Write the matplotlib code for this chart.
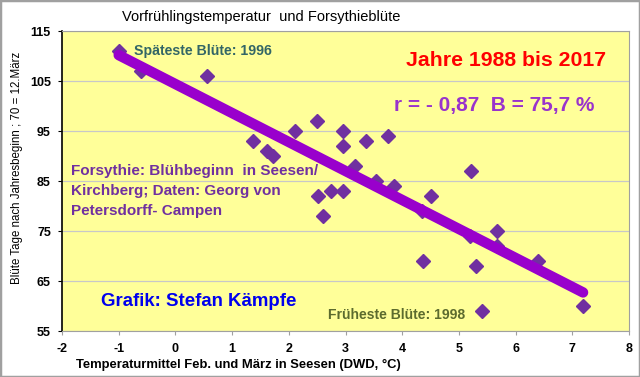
import numpy as np
import matplotlib
matplotlib.use("Agg")
import matplotlib.pyplot as plt
from matplotlib.patches import Rectangle

plt.rcParams['font.family'] = ['Liberation Sans', 'DejaVu Sans']
plt.rcParams['axes.unicode_minus'] = False

temp = [-1.0, -0.61, 0.55, 1.36, 1.61, 1.73, 2.11, 2.50, 2.95, 2.95,
        3.36, 3.75, 3.16, 3.53, 3.86, 2.52, 2.74, 2.95, 2.61, 4.51,
        4.35, 5.21, 5.20, 5.67, 5.67, 6.40, 4.36, 5.30, 5.40, 7.19]
bloom = [111, 107, 106, 93, 91, 90, 95, 97, 95, 92,
         93, 94, 88, 85, 84, 82, 83, 83, 78, 82,
         79, 87, 74, 75, 72, 69, 69, 68, 59, 60]
xticks = [-2, -1, 0, 1, 2, 3, 4, 5, 6, 7, 8]
yticks = [55, 65, 75, 85, 95, 105, 115]

fig = plt.figure(figsize=(6.4, 3.77), dpi=100)
fig.patch.set_facecolor('white')
fig.patches.append(Rectangle((0, 0), 1, 1, transform=fig.transFigure,
                             fill=False, edgecolor='#A0A0A0', linewidth=2.5))
ax = fig.add_axes([62/640, 1-331/377, (629-62)/640, (331-31)/377])
ax.set_facecolor('#FFFF99')
ax.set_xlim(-2, 8)
ax.set_ylim(55, 115)
ax.set_xticks(xticks)
ax.set_yticks(yticks)
ax.grid(axis='y', color='#C8C8C8', linewidth=0.9)
ax.set_axisbelow(True)
for s in ['top', 'right', 'bottom']:
    ax.spines[s].set_color('#A0A0A0')
ax.spines['left'].set_color('black')
ax.spines['left'].set_linewidth(1.2)
ax.tick_params(axis='both', labelsize=9, length=3, width=0.8, direction='out')
ax.tick_params(axis='y', pad=5)
ax.tick_params(axis='x', pad=6, colors='#A0A0A0', labelcolor='black')
for lab in ax.get_xticklabels() + ax.get_yticklabels():
    lab.set_fontweight('bold')

ax.plot(temp, bloom, linestyle='none', marker='D', markersize=7.5,
        color='#7030A0', markeredgecolor='#7030A0', zorder=3)

t = np.array(temp)
b = np.array(bloom)
k, d = np.polyfit(t, b, 1)
xs = np.array([t.min(), t.max()])
ax.plot(xs, k*xs + d, color='#9900CC', linewidth=7.5, solid_capstyle='round', zorder=4)

fig.text(261/640, 1-17/377, 'Vorfrühlingstemperatur  und Forsythieblüte',
         ha='center', va='center', fontsize=10.5)
fig.text(238/640, 1-365/377, 'Temperaturmittel Feb. und März in Seesen (DWD, °C)',
         ha='center', va='center', fontsize=9.4, fontweight='bold')
fig.text(17/640, 1-168/377, 'Blüte Tage nach Jahresbeginn ; 70 = 12.März',
         ha='center', va='center', fontsize=8.3, rotation=90)

ax.text(-0.73, 111, 'Späteste Blüte: 1996', color='#336666', fontsize=10.2,
        fontweight='bold', va='center')
ax.text(5.83, 109.1, 'Jahre 1988 bis 2017', color='#FF0000', fontsize=15.3,
        fontweight='bold', ha='center', va='center')
ax.text(5.63, 100.0, 'r = - 0,87  B = 75,7 %', color='#9933CC', fontsize=15,
        fontweight='bold', ha='center', va='center')
ax.text(-1.84, 88.3, 'Forsythie: Blühbeginn  in Seesen/\nKirchberg; Daten: Georg von\nPetersdorff- Campen',
        color='#7030A0', fontsize=11, fontweight='bold', va='top', linespacing=1.5)
ax.text(-1.32, 60.8, 'Grafik: Stefan Kämpfe', color='#0000EE', fontsize=13.4,
        fontweight='bold', va='center')
ax.text(2.69, 58.2, 'Früheste Blüte: 1998', color='#5C6B2E', fontsize=10.1,
        fontweight='bold', va='center')

fig.savefig('out.png', dpi=100, facecolor=fig.get_facecolor())
